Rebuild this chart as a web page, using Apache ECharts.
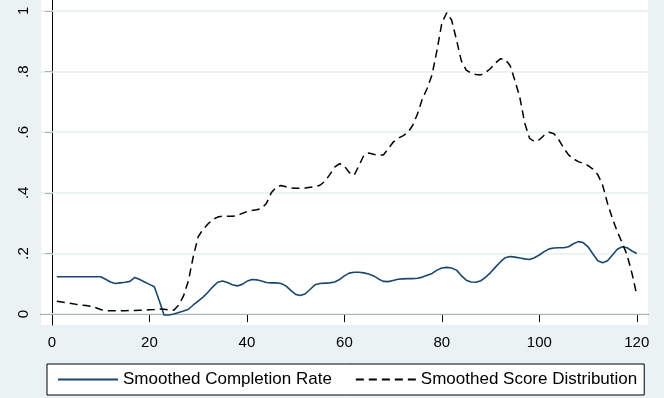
<!DOCTYPE html>
<html>
<head>
<meta charset="utf-8">
<script src="https://cdn.jsdelivr.net/npm/echarts@6/dist/echarts.min.js"></script>
<style>
html,body{margin:0;padding:0;background:#eaf2f3;}
#c{width:664px;height:398px;}
</style>
</head>
<body>
<div id="c"></div>
<script>
const xValues = [1,2,3,4,5,6,7,8,9,10,11,12,13,14,15,16,17,18,19,20,
21,22,23,24,25,26,27,28,29,30,31,32,33,34,35,36,37,38,39,40,
41,42,43,44,45,46,47,48,49,50,51,52,53,54,55,56,57,58,59,60,
61,62,63,64,65,66,67,68,69,70,71,72,73,74,75,76,77,78,79,80,
81,82,83,84,85,86,87,88,89,90,91,92,93,94,95,96,97,98,99,100,
101,102,103,104,105,106,107,108,109,110,111,112,113,114,115,116,117,118,119,120];

const completionRate = [0.123,0.123,0.123,0.123,0.123,0.123,0.123,0.123,0.123,0.123,
0.115,0.106,0.101,0.103,0.105,0.108,0.121,0.114,0.106,0.098,
0.090,0.045,-0.003,-0.003,0.000,0.005,0.010,0.016,0.030,0.043,
0.056,0.072,0.090,0.105,0.109,0.104,0.097,0.093,0.098,0.108,
0.114,0.113,0.109,0.104,0.103,0.103,0.101,0.093,0.078,0.065,
0.061,0.067,0.082,0.097,0.101,0.102,0.103,0.106,0.114,0.126,
0.135,0.138,0.138,0.136,0.132,0.126,0.116,0.108,0.107,0.111,
0.115,0.116,0.117,0.117,0.118,0.122,0.128,0.134,0.145,0.152,
0.154,0.152,0.145,0.127,0.112,0.106,0.105,0.110,0.122,0.137,
0.155,0.172,0.186,0.190,0.188,0.185,0.182,0.180,0.186,0.195,
0.206,0.215,0.218,0.219,0.219,0.222,0.232,0.239,0.236,0.222,
0.198,0.176,0.169,0.176,0.195,0.214,0.222,0.219,0.208,0.200];

const scoreDistribution = [0.042,0.040,0.037,0.035,0.032,0.030,0.028,0.026,0.021,0.015,
0.011,0.011,0.011,0.011,0.011,0.012,0.012,0.013,0.013,0.014,
0.015,0.017,0.016,0.014,0.013,0.030,0.060,0.110,0.190,0.255,
0.280,0.297,0.312,0.320,0.323,0.323,0.323,0.324,0.332,0.338,
0.342,0.344,0.348,0.365,0.400,0.418,0.424,0.420,0.416,0.415,
0.415,0.416,0.418,0.420,0.425,0.438,0.460,0.485,0.496,0.488,
0.467,0.458,0.490,0.524,0.531,0.527,0.524,0.525,0.545,0.567,
0.580,0.588,0.598,0.622,0.660,0.710,0.745,0.790,0.870,0.960,
0.994,0.970,0.905,0.835,0.805,0.795,0.790,0.789,0.797,0.810,
0.828,0.842,0.840,0.820,0.770,0.715,0.630,0.580,0.569,0.575,
0.590,0.600,0.595,0.575,0.548,0.525,0.512,0.503,0.497,0.490,
0.478,0.460,0.425,0.365,0.315,0.272,0.235,0.195,0.135,0.063];

const seriesNames = ['Smoothed Completion Rate', 'Smoothed Score Distribution'];
const xTicks = [0, 20, 40, 60, 80, 100, 120];
const yTicks = [0, 0.2, 0.4, 0.6, 0.8, 1];
const yTickLabels = ['0', '.2', '.4', '.6', '.8', '1'];

const FONT = 'Liberation Sans, Arial, Helvetica, sans-serif';
const chart = echarts.init(document.getElementById('c'), null, {renderer: 'canvas'});

chart.setOption({
  animation: false,
  backgroundColor: '#eaf2f3',
  grid: {left: 41, right: 16, top: 0, bottom: 73, show: true, backgroundColor: '#ffffff', borderWidth: 0},
  xAxis: {
    type: 'value', min: -2.25, max: 122.3,
    axisLine: {show: true, lineStyle: {color: '#000', width: 1}},
    axisTick: {show: true, length: 8, customValues: xTicks, lineStyle: {color: '#000'}},
    axisLabel: {customValues: xTicks, color: '#000', fontSize: 15, fontFamily: FONT, margin: 10},
    splitLine: {show: false}
  },
  yAxis: {
    type: 'value', min: -0.036, max: 1.036,
    axisLine: {show: true, lineStyle: {color: '#000', width: 1}},
    axisTick: {show: true, length: 7, customValues: yTicks, lineStyle: {color: '#000'}},
    axisLabel: {
      customValues: yTicks, rotate: 90, color: '#000', fontSize: 15, fontFamily: FONT, margin: 10,
      formatter: function (v) { const i = yTicks.findIndex(t => Math.abs(t - v) < 1e-9); return i >= 0 ? yTickLabels[i] : ''; }
    },
    splitLine: {show: false}
  },
  legend: {
    left: 47, top: 364,
    orient: 'horizontal',
    padding: [7, 7, 7, 10],
    itemGap: 23, itemWidth: 60, itemHeight: 18,
    backgroundColor: '#ffffff', borderColor: '#000', borderWidth: 1, borderRadius: 0,
    itemStyle: {color: 'rgba(0,0,0,0)', borderWidth: 0, opacity: 0},
    textStyle: {color: '#000', fontSize: 17, fontFamily: FONT},
    data: seriesNames
  },
  series: [
    {
      name: seriesNames[0], type: 'line', symbol: 'none', showSymbol: false,
      data: xValues.map((x, i) => [x, completionRate[i]]),
      lineStyle: {color: '#1a476f', width: 1.6},
      itemStyle: {color: '#1a476f'},
      z: 3,
      markLine: {
        silent: true, symbol: ['none', 'none'], z: 1, animation: false,
        label: {show: false},
        lineStyle: {color: '#e6eff0', type: 'solid', width: 1.5},
        emphasis: {disabled: true},
        data: yTicks.map(v => ({yAxis: v}))
      }
    },
    {
      name: seriesNames[1], type: 'line', symbol: 'none', showSymbol: false,
      data: xValues.map((x, i) => [x, scoreDistribution[i]]),
      lineStyle: {color: '#000', width: 1.5, type: [8, 5]},
      itemStyle: {color: '#000'},
      z: 4
    }
  ]
});
</script>
</body>
</html>
